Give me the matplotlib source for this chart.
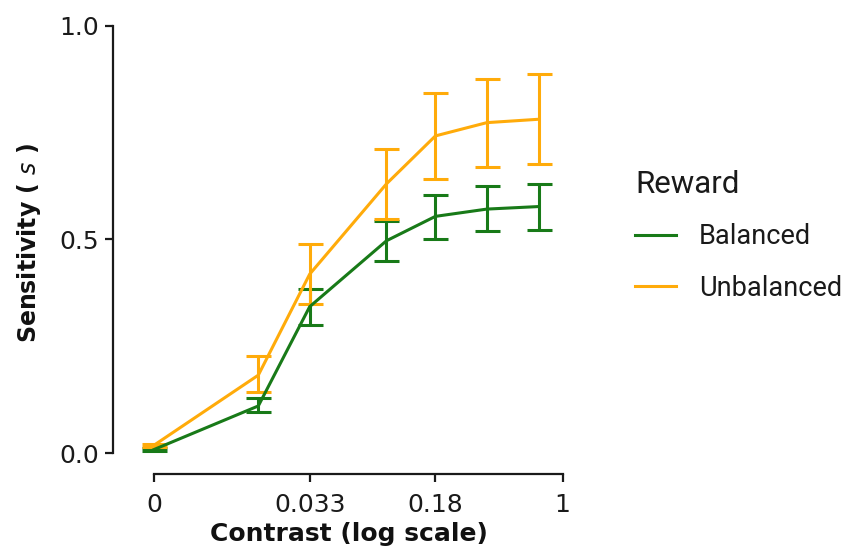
import numpy as np
import matplotlib
matplotlib.use("Agg")
import matplotlib.pyplot as plt
from matplotlib.lines import Line2D
from matplotlib.ticker import NullLocator

plt.rcParams['font.family'] = ['DejaVu Sans']
plt.rcParams['mathtext.fontset'] = 'dejavusans'

# Stimulus contrasts (0 is drawn at a small stand-in value on the log axis)
contrast = [0.0, 0.0165, 0.033, 0.093, 0.18, 0.36, 0.73]
zero_pos = 0.00403

tick_values = [0.0, 0.033, 0.18, 1.0]
tick_labels = ["0", "0.033", "0.18", "1"]

# Sensitivity means and error-bar limits per reward condition
balanced_mean = [0.009, 0.111, 0.343, 0.497, 0.554, 0.571, 0.577]
balanced_low = [0.006, 0.096, 0.299, 0.449, 0.501, 0.519, 0.523]
balanced_high = [0.012, 0.129, 0.385, 0.544, 0.605, 0.625, 0.630]

unbalanced_mean = [0.019, 0.183, 0.419, 0.630, 0.742, 0.773, 0.781]
unbalanced_low = [0.015, 0.144, 0.350, 0.548, 0.642, 0.669, 0.676]
unbalanced_high = [0.023, 0.228, 0.489, 0.712, 0.842, 0.876, 0.887]

series = [
    ("Balanced", balanced_mean, balanced_low, balanced_high, "#187a18"),
    ("Unbalanced", unbalanced_mean, unbalanced_low, unbalanced_high, "#ffab0a"),
]


def to_axis(c):
    return [zero_pos if v == 0 else v for v in c]


W, H = 841, 552
fig = plt.figure(figsize=(W / 100, H / 100), dpi=100)
fig.patch.set_facecolor("white")

left_px, right_px, top_px, bottom_px = 112.6, 562.5, 25.5, 474.0
ax = fig.add_axes([left_px / W, 1 - bottom_px / H,
                   (right_px - left_px) / W, (bottom_px - top_px) / H])

x = np.array(to_axis(contrast))
for name, mean, low, high, color in series:
    mean = np.array(mean)
    yerr = np.vstack([mean - np.array(low), np.array(high) - mean])
    ax.errorbar(x, mean, yerr=yerr, fmt='-', color=color, lw=2.2,
                elinewidth=2.2, capsize=9, capthick=2.2, label=name,
                clip_on=False)

ax.set_xscale('log')
ax.set_xlim(0.00231, 1.0)
ax.set_ylim(-0.048, 1.0)

ax.set_xticks(to_axis(tick_values))
ax.set_xticklabels(tick_labels)
ax.xaxis.set_minor_locator(NullLocator())
ax.set_yticks([0.0, 0.5, 1.0])
ax.set_yticklabels(["0.0", "0.5", "1.0"])

for side in ("top", "right"):
    ax.spines[side].set_visible(False)
ax.spines["left"].set_bounds(0.0, 1.0)
ax.spines["bottom"].set_bounds(zero_pos, 1.0)
for side in ("left", "bottom"):
    ax.spines[side].set_linewidth(1.6)
    ax.spines[side].set_color("#1a1a1a")

ax.tick_params(axis='both', labelsize=18, length=6, width=1.6,
               color="#1a1a1a", labelcolor="#1a1a1a")
ax.tick_params(axis='x', pad=7.5)
ax.tick_params(axis='y', pad=3.5)

ax.set_xlabel("Contrast (log scale)", fontsize=18, fontweight='bold',
              color="#111111")
ax.xaxis.set_label_coords((349 - left_px) / (right_px - left_px),
                          -(522 - bottom_px) / (bottom_px - top_px))
ax.set_ylabel(r"Sensitivity ( $s$ )", fontsize=17, fontweight='bold',
              color="#111111")
ax.yaxis.set_label_coords(-(left_px - 43) / (right_px - left_px), 0.5145)

handles = [Line2D([], [], color=c, lw=2.2) for _, _, _, _, c in series]
leg = fig.legend(handles, [s[0] for s in series], title="Reward",
                 loc="upper left", bbox_to_anchor=(635 / W, 1 - 170 / H),
                 frameon=False, borderpad=0, borderaxespad=0,
                 prop={'family': 'Roboto', 'size': 19.5},
                 title_fontproperties={'family': 'Roboto', 'size': 22.5},
                 handlelength=1.52, handletextpad=0.85, labelspacing=0.9,
                 alignment='left')
for t in leg.get_texts():
    t.set_color("#1a1a1a")
leg.get_title().set_color("#1a1a1a")

fig.savefig("out.png", dpi=100, facecolor="white")
